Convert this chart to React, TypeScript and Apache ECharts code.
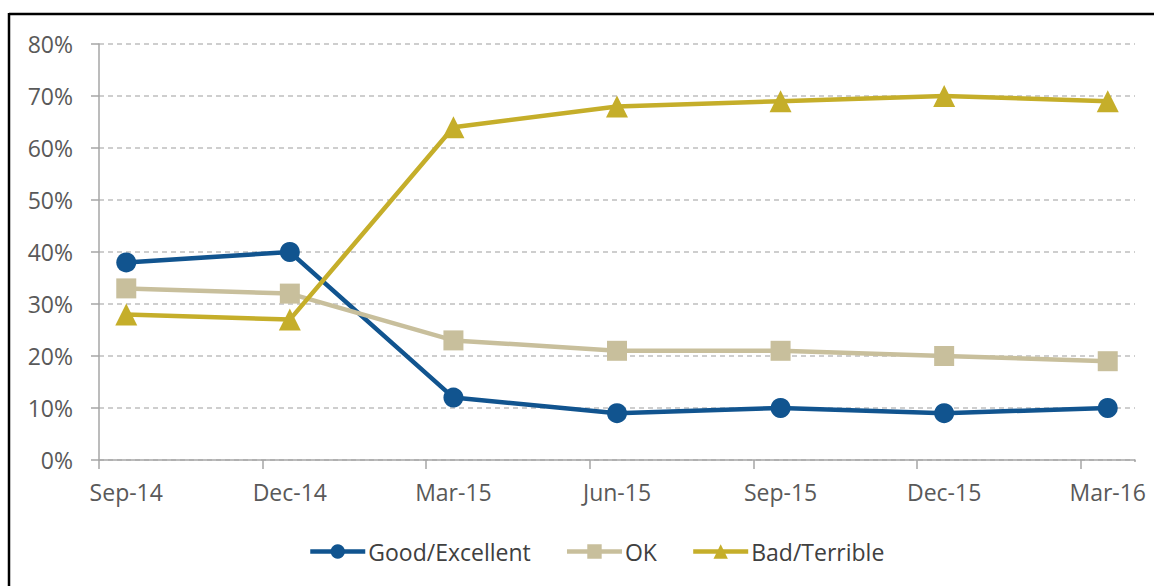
import React, { useEffect, useRef } from "react";
import * as echarts from "echarts";

// Monthly date-axis categories (Excel date axis, base unit = month)
const months = [
  "Sep-14", "Oct-14", "Nov-14", "Dec-14", "Jan-15", "Feb-15", "Mar-15",
  "Apr-15", "May-15", "Jun-15", "Jul-15", "Aug-15", "Sep-15", "Oct-15",
  "Nov-15", "Dec-15", "Jan-16", "Feb-16", "Mar-16",
];
// Survey waves
const surveys = ["Sep-14", "Dec-14", "Mar-15", "Jun-15", "Sep-15", "Dec-15", "Mar-16"];
const goodExcellent = [38, 40, 12, 9, 10, 9, 10];
const ok = [33, 32, 23, 21, 21, 20, 19];
const badTerrible = [28, 27, 64, 68, 69, 70, 69];
const yTicks = [0, 10, 20, 30, 40, 50, 60, 70, 80];

const FONT = "'Open Sans', sans-serif";

function toMonthly(values: number[]) {
  const arr: (number | null)[] = months.map(() => null);
  surveys.forEach((s, i) => {
    const idx = months.indexOf(s);
    arr[idx] = values[i];
  });
  return arr;
}

export default function App() {
  const ref = useRef<HTMLDivElement>(null);
  useEffect(() => {
    if (!ref.current) return;
    const chart = echarts.init(ref.current, null, { renderer: "svg" });
    const mkSeries = (name: string, values: number[], color: string, symbol: string, size: number) => ({
      name,
      type: "line",
      data: toMonthly(values),
      connectNulls: true,
      symbol,
      symbolSize: size,
      showAllSymbol: true,
      lineStyle: { color, width: 4.5 },
      itemStyle: { color },
      z: 3,
    });
    chart.setOption({
      animation: false,
      backgroundColor: "#ffffff",
      grid: { left: 99, right: 19, top: 44, bottom: 126, containLabel: false },
      xAxis: {
        type: "category",
        data: months,
        boundaryGap: true,
        axisLine: { show: true, lineStyle: { color: "#a6a6a6", width: 1.5 } },
        axisTick: {
          show: true,
          length: 9,
          interval: (i: number) => i % 3 === 0,
          lineStyle: { color: "#a6a6a6", width: 1.5 },
        },
        axisLabel: {
          interval: (i: number) => i % 3 === 0,
          color: "#595959",
          fontFamily: FONT,
          fontSize: 23,
          margin: 20,
        },
        splitLine: { show: false },
      },
      yAxis: {
        type: "value",
        min: yTicks[0],
        max: yTicks[yTicks.length - 1],
        interval: 10,
        axisLine: { show: true, lineStyle: { color: "#a6a6a6", width: 1.5 } },
        axisTick: { show: true, length: 8, lineStyle: { color: "#a6a6a6", width: 1.5 } },
        axisLabel: {
          formatter: "{value}%",
          color: "#595959",
          fontFamily: FONT,
          fontSize: 23,
          margin: 26,
        },
        splitLine: { show: true, lineStyle: { color: "#bfbfbf", type: [5, 4], width: 1.5 } },
      },
      legend: {
        left: 303,
        top: 535,
        itemWidth: 55,
        itemHeight: 18,
        itemGap: 34,
        lineStyle: { width: 4.5 },
        textStyle: { color: "#404040", fontFamily: FONT, fontSize: 23, padding: [0, 0, 0, -2] },
        data: ["Good/Excellent", "OK", "Bad/Terrible"],
      },
      series: [
        mkSeries("Good/Excellent", goodExcellent, "#11548f", "circle", 20),
        mkSeries("OK", ok, "#c8bf9c", "rect", 20),
        mkSeries("Bad/Terrible", badTerrible, "#c5ae2a", "triangle", 22),
      ],
      graphic: [
        { type: "rect", shape: { x: 1130, y: 462, width: 10, height: 12 }, style: { fill: "#ffffff" }, z: 100 },
        { type: "line", shape: { x1: 9, y1: 14, x2: 1154, y2: 14 }, style: { stroke: "#000", lineWidth: 2.5 } },
        { type: "line", shape: { x1: 9, y1: 13, x2: 9, y2: 586 }, style: { stroke: "#000", lineWidth: 2.5 } },
      ],
    });
    return () => chart.dispose();
  }, []);
  return (
    <div
      ref={ref}
      style={{ position: "fixed", left: 0, top: 0, width: 1154, height: 586, background: "#fff" }}
    />
  );
}
